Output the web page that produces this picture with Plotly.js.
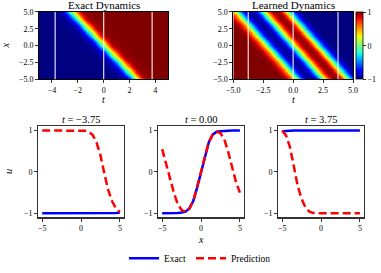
<!DOCTYPE html>
<html>
<head>
<meta charset="utf-8">
<script src="https://cdn.plot.ly/plotly-3.0.1.min.js"></script>
<style>html,body{margin:0;padding:0;background:#fff;}#chart{width:381px;height:273px;}</style>
</head>
<body>
<div id="chart"></div>
<script>
// ---------------- data ----------------
const tValues = [-3.75, 0, 3.75];
const xLine = [-5,-4.5,-4,-3.5,-3,-2.5,-2,-1.5,-1,-0.5,0,0.5,1,1.5,2,2.5,3,3.5,4,4.5,5];

const exactT1 = [-1,-1,-1,-1,-1,-1,-1,-1,-1,-1,-1,-1,-1,-1,-1,-1,-1,-1,-1,-0.99,-0.98];
const predT1  = [1,1,1,1,1,1,1,1,1,1,1,0.995,0.97,0.89,0.71,0.4,-0.04,-0.44,-0.71,-0.88,-0.97];
const exactT2 = [-1,-1,-1,-0.99,-0.99,-0.98,-0.96,-0.88,-0.7,-0.38,0,0.38,0.72,0.9,0.97,0.98,0.99,0.99,1,1,1];
const predT2  = [0.55,0.2,-0.15,-0.5,-0.78,-0.92,-0.96,-0.89,-0.7,-0.38,0,0.38,0.72,0.9,0.97,0.94,0.78,0.48,0.08,-0.25,-0.5];
const exactT3 = [0.98,0.99,1,1,1,1,1,1,1,1,1,1,1,1,1,1,1,1,1,1,1];
const predT3  = [0.99,0.88,0.6,0.13,-0.34,-0.65,-0.86,-0.96,-0.99,-1,-1,-1,-1,-1,-1,-1,-1,-1,-1,-1,-1];

// travelling-wave profiles (value vs s = x + speed*t)
const waveSpeed = 2;
const profileS = [-7.5,-7,-6.5,-6,-5.5,-5,-4.5,-4,-3.5,-3,-2.5,-2,-1.5,-1,-0.5,0,0.5,1,1.5,2,2.5,3,3.5,4,4.5,5,5.5,6,6.5,7,7.5];
const exactProfile = [-1,-1,-1,-1,-1,-1,-1,-1,-0.99,-0.99,-0.98,-0.96,-0.88,-0.7,-0.38,0,0.38,0.72,0.9,0.97,0.98,0.99,0.99,1,1,1,1,1,1,1,1];
const learnedProfile = [1,0.995,0.97,0.89,0.71,0.5,0.1,-0.3,-0.6,-0.83,-0.95,-0.96,-0.9,-0.7,-0.38,0,0.38,0.72,0.9,0.97,0.96,0.83,0.54,0.1,-0.3,-0.58,-0.84,-0.95,-0.99,-1,-1];

const gridT = [-5,-4.75,-4.5,-4.25,-4,-3.75,-3.5,-3.25,-3,-2.75,-2.5,-2.25,-2,-1.75,-1.5,-1.25,-1,-0.75,-0.5,-0.25,0,0.25,0.5,0.75,1,1.25,1.5,1.75,2,2.25,2.5,2.75,3,3.25,3.5,3.75,4,4.25,4.5,4.75,5];
const gridX = xLine;

const panelTitles = ['<i>t</i> = \u22123.75', '<i>t</i> = 0.00', '<i>t</i> = 3.75'];
const legendNames = ['Exact', 'Prediction'];

// ---------------- build ----------------
const W = 381, H = 273;
const FONT = 'Liberation Serif, Times New Roman, serif';
const dxp = (a, b) => [a / W, b / W];
const dyp = (a, b) => [1 - b / H, 1 - a / H];

function lookup(profile, s) {
  let i = Math.round((s - profileS[0]) / 0.5);
  if (i < 0) i = 0;
  if (i > profile.length - 1) i = profile.length - 1;
  return profile[i];
}
function field(profile) {
  return gridX.map(x => gridT.map(t => lookup(profile, x + waveSpeed * t)));
}

const jet = [
  [0, 'rgb(0,0,128)'], [0.11, 'rgb(0,0,255)'], [0.125, 'rgb(0,0,255)'],
  [0.34, 'rgb(0,219,255)'], [0.35, 'rgb(0,230,247)'], [0.375, 'rgb(21,255,226)'],
  [0.64, 'rgb(239,255,8)'], [0.65, 'rgb(247,246,0)'], [0.66, 'rgb(255,236,0)'],
  [0.89, 'rgb(255,19,0)'], [0.91, 'rgb(232,0,0)'], [1, 'rgb(128,0,0)']
];

const traces = [];
traces.push({type: 'heatmap', x: gridT, y: gridX, z: field(exactProfile), xaxis: 'x', yaxis: 'y',
  colorscale: jet, zmin: -1, zmax: 1, showscale: false, zsmooth: 'best', hoverinfo: 'skip'});
traces.push({type: 'heatmap', x: gridT, y: gridX, z: field(learnedProfile), xaxis: 'x2', yaxis: 'y2',
  colorscale: jet, zmin: -1, zmax: 1, zsmooth: 'best', hoverinfo: 'skip',
  colorbar: {x: 356 / W, xanchor: 'left', y: 1 - 81.3 / H, yanchor: 'bottom', len: 69 / H, lenmode: 'fraction',
    thickness: 6.5, thicknessmode: 'pixels', xpad: 0, ypad: 0, outlinewidth: 0.8, outlinecolor: '#000',
    tickvals: [-1, 0, 1], ticks: 'outside', ticklen: 3, tickwidth: 0.8, tickcolor: '#000',
    tickfont: {family: FONT, size: 8, color: '#000'}}});

const exacts = [exactT1, exactT2, exactT3];
const preds = [predT1, predT2, predT3];
for (let k = 0; k < 3; k++) {
  const xa = 'x' + (k + 3), ya = 'y' + (k + 3);
  traces.push({type: 'scatter', mode: 'lines', x: xLine, y: exacts[k], xaxis: xa, yaxis: ya,
    line: {color: '#0000ff', width: 2.5}, name: legendNames[0], showlegend: k === 0, legendgroup: 'e'});
  traces.push({type: 'scatter', mode: 'lines', x: xLine, y: preds[k], xaxis: xa, yaxis: ya,
    line: {color: '#ff0000', width: 2.5, dash: '8px,4px'}, name: legendNames[1], showlegend: k === 0, legendgroup: 'p'});
}

const axBase = {showline: true, mirror: true, linecolor: '#000', linewidth: 1, ticks: 'outside', ticklen: 3,
  tickwidth: 0.8, tickcolor: '#000', showgrid: false, zeroline: false,
  tickfont: {family: FONT, size: 8, color: '#000'}};

const layout = {
  width: W, height: H, margin: {l: 0, r: 0, t: 0, b: 0}, paper_bgcolor: '#fff', plot_bgcolor: '#fff',
  font: {family: FONT, color: '#000'},
  showlegend: true,
  legend: {orientation: 'h', x: 200 / W, xanchor: 'center', y: 1 - 265 / H, yanchor: 'middle',
    font: {family: FONT, size: 9.5, color: '#000'}, bgcolor: 'rgba(0,0,0,0)', itemwidth: 30},
  xaxis: Object.assign({}, axBase, {domain: dxp(39, 168.3), anchor: 'y', range: [-5, 5], tickvals: [-4, -2, 0, 2, 4]}),
  yaxis: Object.assign({}, axBase, {domain: dyp(12.3, 81.3), anchor: 'x', range: [-5, 5], tickvals: [-5, -2.5, 0, 2.5, 5], tickformat: '.1f'}),
  xaxis2: Object.assign({}, axBase, {domain: dxp(233.3, 353), anchor: 'y2', range: [-5, 5], tickvals: [-5, -2.5, 0, 2.5, 5], tickformat: '.1f'}),
  yaxis2: Object.assign({}, axBase, {domain: dyp(12.3, 81.3), anchor: 'x2', range: [-5, 5], tickvals: [-5, -2.5, 0, 2.5, 5], tickformat: '.1f'}),
  shapes: [], annotations: []
};
const panelX = [[38.3, 123.8], [158.3, 243.8], [278.3, 363.8]];
for (let k = 0; k < 3; k++) {
  const n = k + 3;
  layout['xaxis' + n] = Object.assign({}, axBase, {domain: dxp(panelX[k][0], panelX[k][1]), anchor: 'y' + n,
    range: [-5.5, 5.5], tickvals: [-5, 0, 5], linecolor: '#333', linewidth: 1.2});
  layout['yaxis' + n] = Object.assign({}, axBase, {domain: dyp(129.7, 223.2), anchor: 'x' + n,
    range: [-1.1, 1.1], tickvals: [-1, 0, 1], linecolor: '#333', linewidth: 1.2});
  layout.annotations.push({text: panelTitles[k], xref: 'paper', yref: 'paper',
    x: (panelX[k][0] + panelX[k][1]) / 2 / W, y: 1 - 122.5 / H, xanchor: 'center', yanchor: 'middle',
    showarrow: false, font: {family: FONT, size: 10.5, color: '#000'}});
}
// white time markers on heatmaps
['', '2'].forEach(s => {
  tValues.forEach(t => {
    layout.shapes.push({type: 'line', xref: 'x' + s, yref: 'y' + s + ' domain', x0: t, x1: t, y0: 0, y1: 1,
      line: {color: 'rgba(255,255,255,0.8)', width: 1.3}});
  });
});
function ann(text, xpx, ypx, size, angle) {
  layout.annotations.push({text: text, xref: 'paper', yref: 'paper', x: xpx / W, y: 1 - ypx / H,
    xanchor: 'center', yanchor: 'middle', showarrow: false, textangle: angle || 0, borderpad: 0,
    font: {family: FONT, size: size, color: '#000'}});
}
ann('Exact Dynamics', 103.65, 5, 11);
ann('Learned Dynamics', 293.2, 5, 11);
ann('<i>t</i>', 103.65, 102.5, 10);
ann('<i>t</i>', 293.2, 102.5, 10);
ann('<i>x</i>', 6, 46.8, 10.5, -90);
ann('<i>u</i>', 9, 176.5, 10.5, -90);
ann('<i>x</i>', 201, 245.5, 10);

Plotly.newPlot('chart', traces, layout, {staticPlot: true, displayModeBar: false});
</script>
</body>
</html>
